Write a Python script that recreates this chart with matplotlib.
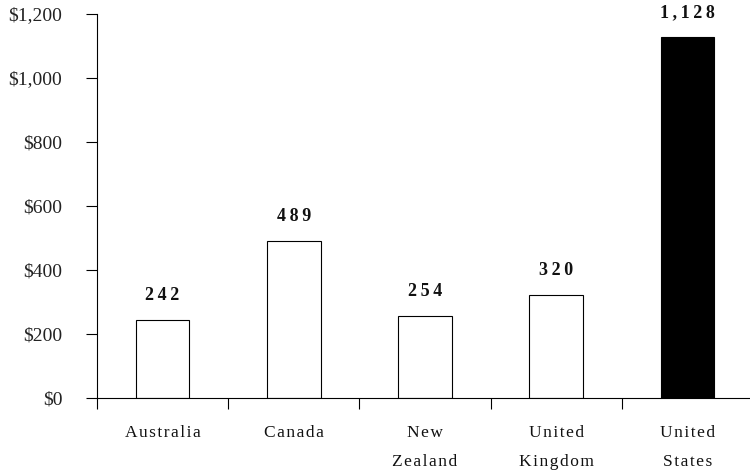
import numpy as np
import matplotlib
matplotlib.use("Agg")
import matplotlib.pyplot as plt

plt.rcParams['font.family'] = ['Liberation Serif', 'DejaVu Serif']

countries = ["Australia", "Canada", "New\nZealand", "United\nKingdom", "United\nStates"]
values = [242, 489, 254, 320, 1128]
bar_colors = ["white", "white", "white", "white", "black"]
yticks = [0, 200, 400, 600, 800, 1000, 1200]


def spaced(s, sp="\u200a"):
    # widen the letter spacing like the original
    return "\n".join(sp.join(line) for line in s.split("\n"))


fig = plt.figure(figsize=(7.5, 4.76), dpi=100)
ax = fig.add_axes([97 / 750, 1 - 397.7 / 476, 656 / 750, 383.7 / 476])

x = np.arange(len(countries))
ax.bar(x, values, width=0.41, color=bar_colors, edgecolor="black", linewidth=0.8)

for xi, v in zip(x, values):
    ax.text(xi, v + 77, spaced(f"{v:,}", "\u2009"), ha="center", va="center",
            fontsize=13, fontweight="bold", color="#111111")

ax.set_xlim(-0.5, 4.48)
ax.set_ylim(0, 1200)
ax.set_yticks(yticks)
ax.set_yticklabels([f"${t:,}" for t in yticks], fontsize=14, color="#222222")

ax.set_xticks(np.arange(len(countries) + 1) - 0.5, minor=False)
ax.set_xticklabels([])
ax.set_xticks(x, minor=True)
ax.set_xticklabels([spaced(c) for c in countries], minor=True, fontsize=12.5,
                   linespacing=2.05, va="top", color="#111111")
ax.tick_params(axis="x", which="minor", length=0, pad=20)
ax.tick_params(axis="x", which="major", length=8, direction="out", width=0.8)
ax.tick_params(axis="y", length=8, direction="out", width=0.8, pad=17)

for s in ["top", "right"]:
    ax.spines[s].set_visible(False)
for s in ["left", "bottom"]:
    ax.spines[s].set_linewidth(0.8)

fig.savefig("out.png", dpi=100)
